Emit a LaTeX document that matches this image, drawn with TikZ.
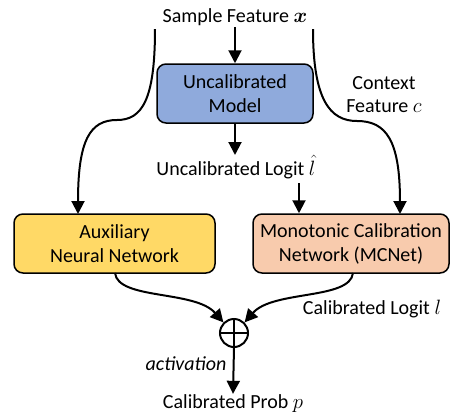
\documentclass[tikz,border=0pt]{standalone}
\usepackage{fontspec}
\setmainfont{Carlito}
\usepackage{bm}
\usetikzlibrary{arrows.meta}
\definecolor{mblue}{HTML}{8FAADC}
\definecolor{myellow}{HTML}{FFD966}
\definecolor{msalmon}{HTML}{F8CBAD}
\tikzset{
  lbl/.style={font=\fontsize{20}{23}\selectfont, inner sep=1pt, align=center},
  box/.style={draw=black, line width=1.5pt, rounded corners=9pt, minimum height=59pt, align=center, font=\fontsize{20}{24}\selectfont, inner sep=0pt},
  conn/.style={line width=2pt, -{Triangle[length=13pt,width=13pt]}},
  plain/.style={line width=2pt}
}
\begin{document}
\begin{tikzpicture}[x=1pt,y=-1pt]
\useasboundingbox (0,0) rectangle (451,416);
\node[lbl] (sample) at (235,17) {Sample Feature $\bm{x}$};
\node[box, fill=mblue, minimum width=156pt] (model) at (235,93.5) {Uncalibrated\\Model};
\node[lbl] (lhat) at (236,167) {Uncalibrated Logit $\hat{l}$};
\node[lbl] (ctx) at (384,95) {Context\\Feature $c$};
\node[box, fill=myellow, minimum width=201pt] (aux) at (114.5,243.5) {Auxiliary\\Neural Network};
\node[box, fill=msalmon, minimum width=196pt] (mc) at (351,243.5) {Monotonic Calibration\\Network (MCNet)};
\node[draw, circle, line width=2pt, minimum size=28pt, inner sep=0pt] (plus) at (234,333) {};
\draw[line width=2pt] (plus.north) -- (plus.south) (plus.west) -- (plus.east);
\node[lbl] (clogit) at (372,309) {Calibrated Logit $l$};
\node[lbl, font=\fontsize{20}{23}\selectfont\itshape] (act) at (186,364) {activation};
\node[lbl] (prob) at (233,404) {Calibrated Prob $p$};

\coordinate (sL) at (155,29);
\coordinate (sR) at (313,29);
\coordinate (lh) at (299,183);
\coordinate (auxout) at (115,273);
\coordinate (mcout) at (353,273);

\draw[conn] (sample.south) -- (model.north);
\draw[conn] (model.south) -- (model.south |- 0,155);
\draw[conn] (lh) -- (lh |- mc.north);
\draw[conn] (sL) .. controls (155,100) and (142,120) .. (117,120)
   .. controls (90,120) and (78,140) .. (78,214);
\draw[conn] (sR) .. controls (313,100) and (330,121) .. (357,121)
   .. controls (386,121) and (400,140) .. (400,214);
\draw[conn] (auxout) .. controls (118,300) and (195,290) .. (plus.north west);
\draw[conn] (mcout) .. controls (350,300) and (273,290) .. (plus.north east);
\draw[conn] (plus.south) -- (prob.north);
\end{tikzpicture}
\end{document}
